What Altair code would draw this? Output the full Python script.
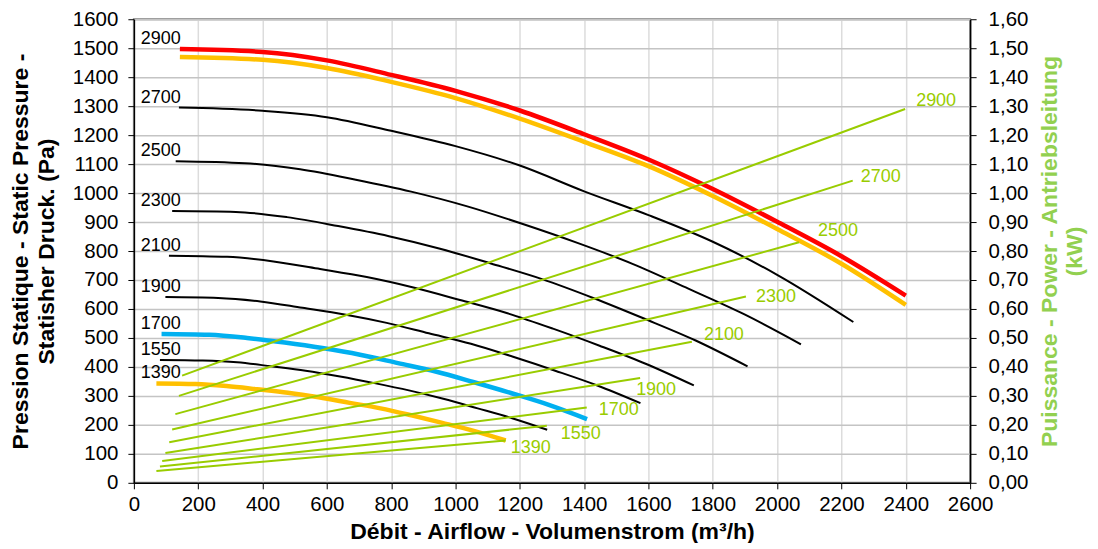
import altair as alt
import pandas as pd

FONT = "Liberation Sans"

# ---------------- data ----------------
# Pressure curves (m3/h -> Pa)
p_names = ["2900", "2900b", "2700", "2500", "2300", "2100", "1900", "1700", "1550", "1390"]
p_x = {
    "2900":  [143, 400, 600, 800, 1000, 1200, 1400, 1600, 1800, 2000, 2200, 2400],
    "2900b": [143, 400, 600, 800, 1000, 1200, 1400, 1600, 1800, 2000, 2200, 2400],
    "2700":  [140, 400, 600, 800, 1000, 1200, 1400, 1600, 1800, 2000, 2237],
    "2500":  [130, 345, 517, 690, 862, 1034, 1207, 1379, 1552, 1724, 1897, 2074],
    "2300":  [119, 317, 476, 635, 793, 952, 1110, 1269, 1428, 1586, 1745, 1908],
    "2100":  [109, 290, 434, 579, 724, 869, 1014, 1159, 1303, 1448, 1593, 1741],
    "1900":  [98, 262, 393, 524, 655, 786, 917, 1048, 1179, 1310, 1441, 1575],
    "1700":  [86, 234, 352, 469, 586, 703, 821, 938, 1055, 1172, 1290, 1409],
    "1550":  [81, 214, 321, 428, 534, 641, 748, 855, 962, 1069, 1176, 1285],
    "1390":  [70, 192, 288, 383, 479, 575, 671, 767, 863, 959, 1054, 1156],
}
p_val = {
    "2900":  [1497, 1487, 1458, 1408, 1353, 1285, 1203, 1116, 1014, 901, 782, 646],
    "2900b": [1470, 1460, 1432, 1384, 1328, 1257, 1177, 1093, 990, 876, 756, 614],
    "2700":  [1295, 1284, 1262, 1215, 1162, 1095, 1006, 924, 832, 718, 555],
    "2500":  [1110, 1103, 1082, 1046, 1005, 955, 894, 828, 755, 670, 582, 478],
    "2300":  [938, 935, 917, 886, 851, 808, 757, 703, 638, 567, 492, 402],
    "2100":  [784, 780, 764, 738, 710, 674, 631, 586, 532, 473, 410, 336],
    "1900":  [641, 638, 626, 604, 581, 552, 516, 480, 435, 387, 336, 275],
    "1700":  [514, 511, 500, 484, 465, 442, 413, 384, 348, 310, 269, 220],
    "1550":  [424, 422, 416, 402, 387, 367, 344, 319, 290, 257, 223, 183],
    "1390":  [343, 341, 334, 323, 311, 295, 276, 257, 233, 207, 180, 146],
}
# labels of the pressure curves (curve -> text)
p_labels = {"2900": "2900", "2700": "2700", "2500": "2500", "2300": "2300", "2100": "2100",
            "1900": "1900", "1700": "1700", "1550": "1550", "1390": "1390"}

# Power lines (m3/h -> kW)
w_names = ["2900", "2700", "2500", "2300", "2100", "1900", "1700", "1550", "1390"]
w_x = {
    "2900": [150, 2398], "2700": [140, 2235], "2500": [129, 2068], "2300": [119, 1903],
    "2100": [110, 1735], "1900": [98, 1574], "1700": [88, 1408], "1550": [81, 1284],
    "1390": [70, 1156],
}
w_val = {
    "2900": [0.37, 1.29], "2700": [0.30, 1.043], "2500": [0.237, 0.83], "2300": [0.184, 0.643],
    "2100": [0.14, 0.487], "1900": [0.103, 0.362], "1700": [0.075, 0.26], "1550": [0.056, 0.197],
    "1390": [0.041, 0.146],
}

x_ticks = list(range(0, 2700, 200))
p_ticks = list(range(0, 1700, 100))
w_ticks = [i / 10 for i in range(0, 17)]

# ---------------- styles ----------------
thick_colors = {"2900": "#FF0000", "2900b": "#FFC000", "1700": "#00B0F0", "1390": "#FFC000"}
GREEN = "#99CC00"
TITLE_GREEN = "#92D050"
# label offsets (dx, dy) of the green labels relative to the line end
w_label_off = {
    "2900": (11, -8), "2700": (8, -4), "2500": (19, -11), "2300": (10, 0), "2100": (12, -7),
    "1900": (-4, 12), "1700": (12, 3), "1550": (14, 8), "1390": (5, 8),
}
LBL = 20.5
TTL = 23

# ---------------- tables ----------------
rows = []
for n in p_names:
    for xv, pv in zip(p_x[n], p_val[n]):
        rows.append({"curve": n, "x": xv, "p": pv,
                     "kind": "thick" if n in thick_colors else "black"})
df_p = pd.DataFrame(rows)
df_plab = pd.DataFrame([{"curve": n, "label": t, "p": p_val[n][0]} for n, t in p_labels.items()])

wrows = []
for n in w_names:
    for xv, kv in zip(w_x[n], w_val[n]):
        wrows.append({"speed": n, "x": xv, "kw": kv})
df_w = pd.DataFrame(wrows)

# ---------------- encodings ----------------
x_scale = alt.Scale(domain=[0, 2600], nice=False, zero=True)
p_scale = alt.Scale(domain=[0, 1600], nice=False)
w_scale = alt.Scale(domain=[0, 1.6], nice=False)

X_axis = alt.Axis(values=x_ticks, format="d", labelOverlap=False,
                  title="Débit - Airflow - Volumenstrom (m³/h)",
                  grid=True, gridColor="#DCDCDC", gridWidth=1.5, labelFlush=False,
                  domainColor="black", domainWidth=1.5, tickColor="black", tickSize=6,
                  labelFontSize=LBL, labelPadding=6, titleFontSize=TTL, titleFontWeight="bold",
                  titlePadding=5, labelColor="black", titleColor="black")
P_axis = alt.Axis(values=p_ticks, format="d", labelOverlap=False,
                  title=["Pression Statique - Static Pressure -", "Statisher Druck. (Pa)"],
                  grid=True, gridColor="#C4C4C4", gridWidth=1.5, labelFlush=False,
                  domainColor="black", domainWidth=1.5, tickColor="black", tickSize=6,
                  labelFontSize=LBL, labelPadding=10, titleFontSize=TTL, titleFontWeight="bold",
                  titleLineHeight=26, titlePadding=14, labelColor="black", titleColor="black")
W_axis = alt.Axis(values=w_ticks, orient="right", labelOverlap=False, labelFlush=False,
                  labelExpr="replace(format(datum.value, '.2f'), '.', ',')",
                  title=["Puissance - Power - Antriebsleitung", "(kW)"],
                  grid=False, domainColor="black", domainWidth=1.5, tickColor="black",
                  tickSize=6, labelFontSize=LBL, labelPadding=12, titleFontSize=TTL,
                  titleFontWeight="bold", titleColor=TITLE_GREEN, titleAngle=270,
                  titleLineHeight=25, titlePadding=9, labelColor="black")

X = alt.X("x:Q", scale=x_scale, axis=X_axis)
YP = alt.Y("p:Q", scale=p_scale, axis=P_axis)
YW = alt.Y("kw:Q", scale=w_scale, axis=W_axis)

base_p = alt.Chart(df_p)
black = base_p.transform_filter(alt.datum.kind == "black").mark_line(
    color="black", strokeWidth=2, interpolate="monotone").encode(
    x=X, y=YP, detail="curve:N")
thick = base_p.transform_filter(alt.datum.kind == "thick").mark_line(
    strokeWidth=4.5, interpolate="monotone").encode(
    x=X, y=YP,
    color=alt.Color("curve:N", scale=alt.Scale(domain=list(thick_colors.keys()),
                                               range=list(thick_colors.values())), legend=None),
    detail="curve:N")
plab = alt.Chart(df_plab).mark_text(font=FONT, fontSize=18, color="black", align="center",
                                    baseline="middle", dy=-10).encode(
    x=alt.value(27), y=YP, text="label:N")

left = alt.layer(black, thick, plab)

green = alt.Chart(df_w).mark_line(color=GREEN, strokeWidth=2).encode(
    x=X, y=YW, detail="speed:N")
w_layers = [green]
for n in w_names:
    dx, dy = w_label_off[n]
    d = pd.DataFrame([{"x": w_x[n][-1], "kw": w_val[n][-1], "label": n}])
    w_layers.append(alt.Chart(d).mark_text(font=FONT, fontSize=18, color=GREEN, align="left",
                                           baseline="middle", dx=dx, dy=dy).encode(
        x=X, y=YW, text="label:N"))
right = alt.layer(*w_layers)

chart = alt.layer(left, right).resolve_scale(y="independent").properties(
    width=837, height=464,
    autosize=alt.AutoSizeParams(type="none"),
    padding={"left": 126, "top": 11, "right": 120, "bottom": 60},
).configure(font=FONT).configure_view(stroke="#808080", strokeWidth=2)

chart.save("out.html", embed_options={"renderer": "svg", "actions": False})
